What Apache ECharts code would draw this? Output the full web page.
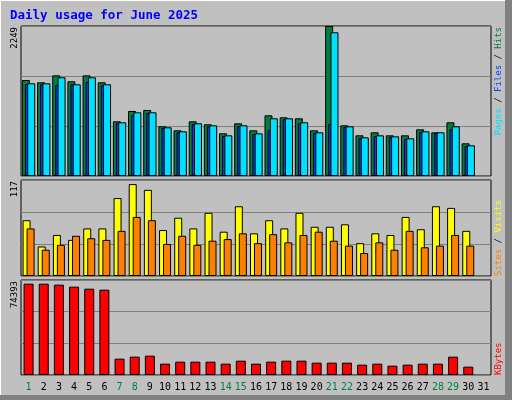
<!DOCTYPE html>
<html>
<head>
<meta charset="utf-8">
<script src="https://cdn.jsdelivr.net/npm/echarts@6/dist/echarts.min.js"></script>
<style>html,body{margin:0;padding:0;background:#c0c0c0}#main{width:512px;height:400px}</style>
</head>
<body>
<div id="main"></div>
<script>
var days = [];
for (var d = 1; d <= 31; d++) days.push(String(d));
var weekends = [1, 7, 8, 14, 15, 21, 22, 28, 29];

var hits = [1439,1405,1509,1420,1509,1405,820,975,990,745,685,820,775,640,790,685,910,880,865,685,2249,760,610,655,610,610,700,655,805,490];
var pages = [1375,1375,1365,1375,1410,1360,790,910,945,720,655,780,745,600,750,630,690,850,790,645,780,735,570,600,585,555,660,645,700,450];
var files = [1390,1390,1480,1375,1480,1375,805,955,955,730,670,790,760,610,760,640,865,865,805,655,2155,745,580,610,595,565,670,655,745,460];
var visits = [68,36,50,44,58,58,95,112,105,56,71,58,77,54,85,52,68,58,77,60,60,63,40,52,50,72,57,85,83,55];
var sites = [58,32,38,49,46,44,55,72,68,39,49,38,43,45,52,40,51,41,50,54,43,37,28,41,32,55,35,37,50,37];
var kbytes = [71520,71520,70740,69170,67600,66820,12790,14360,15140,8875,10440,10440,10440,8875,11220,8875,10440,11220,11220,9660,9660,9660,8090,8875,7310,8090,8875,8875,14360,6525];
var maxTop = 2249, maxMid = 117, maxBot = 74393;

var myChart = echarts.init(document.getElementById('main'));
var mono = 'DejaVu Sans Mono';
var grids = [
  {left: 21, top: 26, width: 470, height: 150},
  {left: 21, top: 180, width: 470, height: 96},
  {left: 21, top: 280, width: 470, height: 95}
];
grids.forEach(function (g) {
  g.show = true; g.borderColor = '#000'; g.borderWidth = 1; g.backgroundColor = '#c0c0c0';
});

function xAx(i, showLabel) {
  return {
    type: 'category', gridIndex: i, data: days,
    axisLine: {show: false}, axisTick: {show: false}, splitLine: {show: false},
    axisLabel: {
      show: showLabel, interval: 0, margin: 7, fontFamily: mono, fontSize: 10,
      formatter: function (v) { return weekends.indexOf(+v) >= 0 ? '{w|' + v + '}' : '{n|' + v + '}'; },
      rich: {w: {color: '#008040', fontFamily: mono, fontSize: 10}, n: {color: '#000', fontFamily: mono, fontSize: 10}}
    }
  };
}
function yAx(i, max) {
  return {
    type: 'value', gridIndex: i, min: 0, max: max, interval: max / 3,
    axisLine: {show: false}, axisTick: {show: false}, axisLabel: {show: false},
    splitLine: {lineStyle: {color: '#808080', width: 1}}
  };
}
var border = {borderColor: '#000', borderWidth: 1};
function bar(name, data, color, w, xi, z, gap) {
  var s = {
    name: name, type: 'bar', data: data, xAxisIndex: xi, yAxisIndex: xi, barWidth: w, z: z,
    itemStyle: Object.assign({color: color}, border), silent: true
  };
  if (gap !== undefined) s.barGap = gap;
  return s;
}

function vText(x, y, align, rich, text) {
  return {
    type: 'text', x: x, y: y, rotation: Math.PI / 2,
    style: {text: text, rich: rich, align: align, verticalAlign: 'top', font: '9px ' + mono}
  };
}
function st(c) { return {fill: c, font: '9px ' + mono}; }

option = {
  backgroundColor: '#c0c0c0',
  animation: false,
  title: {
    text: 'Daily usage for June 2025', left: 5, top: 4,
    textStyle: {color: '#0000ff', fontFamily: mono, fontWeight: 'bold', fontSize: 12.5}
  },
  grid: grids,
  xAxis: [xAx(0, false), xAx(1, false), xAx(2, true)],
  yAxis: [yAx(0, maxTop), yAx(1, maxMid), yAx(2, maxBot)],
  series: [
    bar('Hits', hits, '#008040', 8, 0, 2),
    bar('Pages', pages, '#0040ff', 6, 0, 3),
    bar('Files', files, '#00e0ff', 8, 0, 4, '-62%'),
    bar('Visits', visits, '#ffff00', 8, 1, 2),
    bar('Sites', sites, '#ff8000', 8, 1, 3, '-50%'),
    bar('KBytes', kbytes, '#ff0000', 10, 2, 2)
  ],
  graphic: [
    {type: 'line', shape: {x1: 0.5, y1: 399, x2: 0.5, y2: 0.5}, style: {stroke: '#fff', lineWidth: 1}},
    {type: 'line', shape: {x1: 0.5, y1: 0.5, x2: 511, y2: 0.5}, style: {stroke: '#fff', lineWidth: 1}},
    {type: 'rect', shape: {x: 505, y: 0, width: 7, height: 400}, style: {fill: '#808080'}},
    {type: 'rect', shape: {x: 0, y: 395, width: 512, height: 5}, style: {fill: '#808080'}},
    vText(10, 27, 'right', {a: st('#000')}, '{a|' + maxTop + '}'),
    vText(10, 181, 'right', {a: st('#000')}, '{a|' + maxMid + '}'),
    vText(10, 281, 'right', {a: st('#000')}, '{a|' + maxBot + '}'),
    vText(494, 27, 'right', {p: st('#00e0ff'), s: st('#000'), f: st('#0040ff'), h: st('#008040')},
      '{p|Pages}{s| / }{f|Files}{s| / }{h|Hits}'),
    vText(494, 276, 'left', {a: st('#ff8000'), s: st('#000'), b: st('#ffff00')},
      '{a|Sites}{s| / }{b|Visits}'),
    vText(494, 375, 'left', {a: st('#ff0000')}, '{a|KBytes}')
  ]
};
myChart.setOption(option);
</script>
</body>
</html>
